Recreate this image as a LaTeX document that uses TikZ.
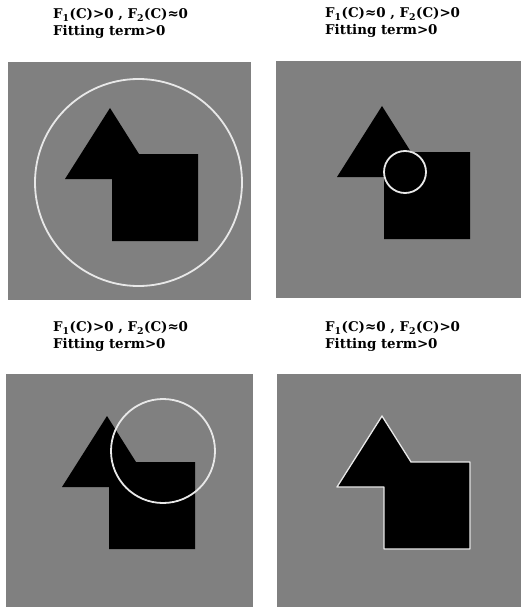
\documentclass[tikz,border=0pt]{standalone}
\usepackage{fontspec}
\setmainfont{DejaVu Serif}
\usepackage{tikz}
\usepackage{xcolor}
\usetikzlibrary{positioning}
\definecolor{panelgray}{RGB}{128,128,128}
\definecolor{curvewhite}{RGB}{232,232,232}
\tikzset{
  lbl/.style={anchor=west,inner sep=0pt,font=\fontsize{13.4}{16}\selectfont\bfseries},
  curve/.style={draw=curvewhite,line width=1.8pt}
}
\newcommand{\arrowshape}[2]{%
  (#1-2,#2-46) -- (#1+27,#2) -- (#1+86,#2) -- (#1+86,#2+87) -- (#1,#2+87) -- (#1,#2+25) -- (#1-47,#2+25) -- cycle}

\begin{document}
\begin{tikzpicture}[x=1pt,y=-1pt]
\useasboundingbox (0,0) rectangle (521,607);
\foreach \i/\xa/\ya/\xb/\yb in {1/8/62/251/300,2/276/61/521/298,3/6/374/253/607,4/277/374/521/607}{
  \fill[panelgray] (\xa,\ya) rectangle (\xb,\yb);
}
\foreach \sx/\sy in {112/154,384/152,109/462,384/462}{
  \fill[black] \arrowshape{\sx}{\sy};
}
\draw[curve] (138.5,182.5) circle (103.5);
\draw[curve] (405,172) circle (21);
\draw[curve] (163,451) circle (52);
\draw[curvewhite,line width=1.3pt,line join=round] \arrowshape{384}{462};
\foreach \i/\x/\y/\fa/\fb in {1/53/15/>/≈,2/325/14/≈/>,3/53/328/>/≈,4/325/328/≈/>}{
  \node[lbl] (f\i) at (\x,\y) {F\textsubscript{1}(C)\fa0 , F\textsubscript{2}(C)\fb0};
  \node[lbl] (t\i) at (\x,\y+17) {Fitting term>0};
}
\end{tikzpicture}
\end{document}
